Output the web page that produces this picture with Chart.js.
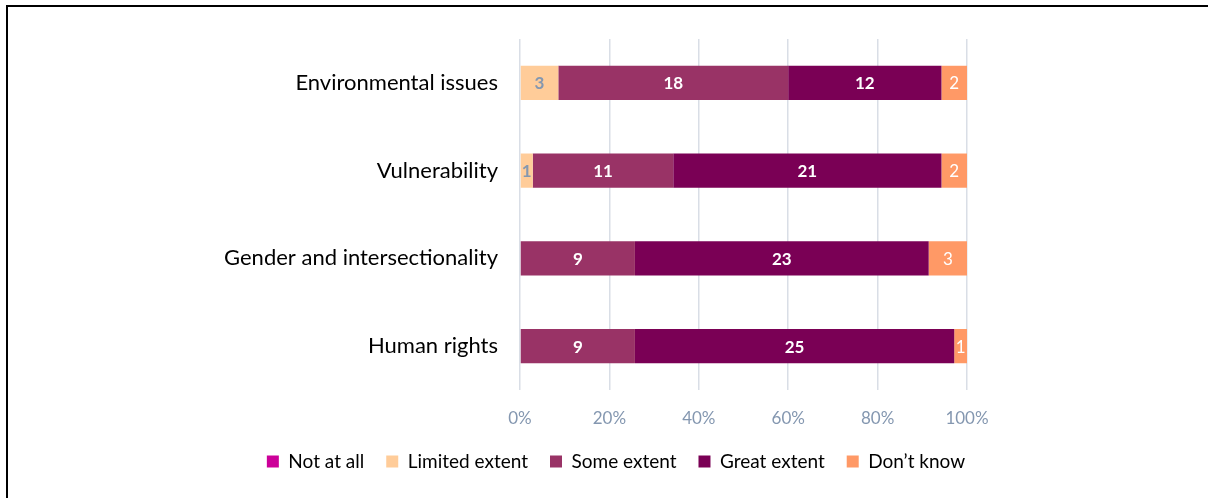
<!DOCTYPE html>
<html>
<head>
<meta charset="utf-8">
<script src="https://cdn.jsdelivr.net/npm/chart.js@4.4.0/dist/chart.umd.min.js"></script>
<style>
  html, body { margin: 0; padding: 0; background: #fff; }
  #wrap { position: relative; width: 1208px; height: 498px; overflow: hidden; }
  #frame { position: absolute; left: 6px; top: 5px; width: 1300px; height: 600px;
           border-top: 2px solid #000; border-left: 2px solid #000; pointer-events: none; }
  #c { position: absolute; left: 0; top: 0; }
</style>
</head>
<body>
<div id="wrap">
  <canvas id="c" width="1208" height="498"></canvas>
  <div id="frame"></div>
</div>
<script>
const categories = ["Environmental issues", "Vulnerability", "Gender and intersectionality", "Human rights"];
const notAtAll      = [0, 0, 0, 0];
const limitedExtent = [3, 1, 0, 0];
const someExtent    = [18, 11, 9, 9];
const greatExtent   = [12, 21, 23, 25];
const dontKnow      = [2, 2, 3, 1];
const seriesNames   = ["Not at all", "Limited extent", "Some extent", "Great extent", "Don\u2019t know"];
const totalResponses = 35;
const tickPercents = ["0%", "20%", "40%", "60%", "80%", "100%"];

const FONT = "Lato, 'Open Sans', sans-serif";
const colors = ["#CC0099", "#FFCC99", "#993366", "#7A0055", "#FF9966"];
const labelColors = [null, "#8497B0", "#FFFFFF", "#FFFFFF", "#FFFFFF"];
const labelWeights = ["bold", "bold", "bold", "bold", "normal"];

const seriesData = [notAtAll, limitedExtent, someExtent, greatExtent, dontKnow];

const labelPlugin = {
  id: 'segLabels',
  afterDatasetsDraw(chart) {
    const ctx = chart.ctx;
    chart.data.datasets.forEach((ds, di) => {
      const meta = chart.getDatasetMeta(di);
      meta.data.forEach((el, i) => {
        const v = ds.data[i];
        if (!v) return;
        ctx.save();
        ctx.font = labelWeights[di] + " 17px " + FONT;
        ctx.fillStyle = labelColors[di];
        ctx.textAlign = "center";
        ctx.textBaseline = "middle";
        ctx.fillText(String(v), (el.x + el.base) / 2, el.y + 1);
        ctx.restore();
      });
    });
  }
};

new Chart(document.getElementById('c'), {
  type: 'bar',
  data: {
    labels: categories,
    datasets: seriesData.map((d, k) => ({
      label: seriesNames[k],
      data: d,
      backgroundColor: colors[k],
      borderWidth: 0,
      barPercentage: 1.0,
      categoryPercentage: 0.39,
      yAxisID: 'y'
    }))
  },
  options: {
    indexAxis: 'y',
    responsive: false,
    animation: false,
    devicePixelRatio: 1,
    layout: { padding: { left: 24, right: 0, top: 39, bottom: 17 } },
    scales: {
      x: {
        stacked: true,
        min: 0,
        max: totalResponses,
        afterBuildTicks(scale) {
          scale.ticks = tickPercents.map((t, i) => ({ value: totalResponses * i / (tickPercents.length - 1) }));
        },
        afterFit(scale) { scale.height = 40; },
        ticks: {
          callback: (v, i) => tickPercents[i],
          color: "#8497B0",
          font: { family: FONT, size: 17 },
          padding: 18,
          maxRotation: 0
        },
        grid: { color: "#D9DEE6", lineWidth: 1.5, drawTicks: false },
        border: { display: false }
      },
      y: {
        stacked: true,
        afterFit(scale) { scale.width = 496; },
        ticks: {
          color: "#000000",
          font: { family: FONT, size: 22 },
          padding: 22
        },
        grid: { display: false, drawTicks: false },
        border: { display: false }
      },
      yRight: {
        type: 'category',
        position: 'right',
        labels: categories,
        afterFit(scale) { scale.width = 241; },
        ticks: { display: false },
        grid: { display: false, drawTicks: false },
        border: { display: false }
      }
    },
    plugins: {
      legend: {
        position: 'bottom',
        labels: {
          boxWidth: 12,
          boxHeight: 12,
          color: "#000000",
          font: { family: FONT, size: 19 },
          padding: 22
        }
      },
      tooltip: { enabled: false }
    }
  },
  plugins: [labelPlugin]
});
</script>
</body>
</html>
